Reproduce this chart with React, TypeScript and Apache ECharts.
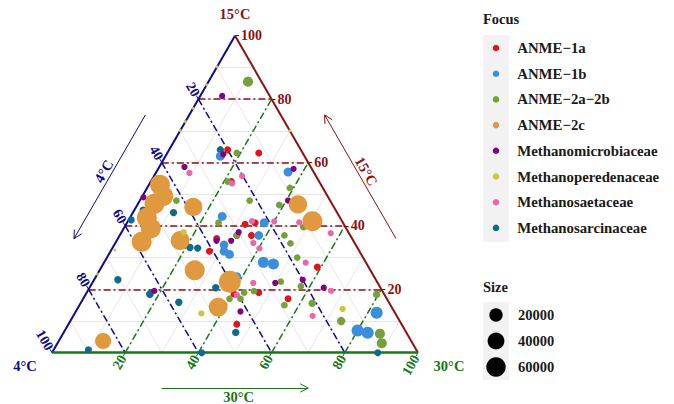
import { useEffect, useRef } from "react";
import * as echarts from "echarts";

const FONT = "'Liberation Serif','Times New Roman',serif";
const C_BLUE = "#0b0b8c";
const C_RED = "#8b1212";
const C_GREEN = "#167816";
const C_GRID = "#e3e3e3";
const C_TEXT = "#1a1a1a";

const categories = [
  "ANME−1a",
  "ANME−1b",
  "ANME−2a−2b",
  "ANME−2c",
  "Methanomicrobiaceae",
  "Methanoperedenaceae",
  "Methanosaetaceae",
  "Methanosarcinaceae",
];
const catColors = ["#e0141c", "#3b8edb", "#76a03a", "#e0993e", "#800080", "#c9c83c", "#e868a8", "#0c6a8a"];

// rows: [15°C, 4°C, 30°C, size]
const anme1a = [
  [64, 20, 16, 1000], [63, 12, 25, 1000], [54, 24, 22, 1000], [40.5, 27, 32.5, 1000],
  [41, 24, 35, 1000], [36, 37, 27, 1000], [37, 31, 32, 1000], [37, 27, 36, 1000],
  [32, 41, 27, 1000], [27, 14, 59, 1000], [18.5, 41, 40.5, 1000], [19, 34, 47, 1000],
  [17, 27, 56, 1000], [9, 45, 46, 1000],
];
const anme1b = [
  [62, 23, 15, 4300], [57, 7, 36, 4300], [43, 32, 25, 4000], [41, 21.5, 37.5, 4300],
  [37, 25, 38, 3500], [34, 36, 30, 3500], [32, 37, 31, 3500], [31, 36, 33, 4000],
  [28.5, 28, 43.5, 10000], [28, 25.5, 46.5, 10000], [24, 37.5, 38.5, 4000],
  [12.6, 5, 82.4, 14000], [7, 13, 80, 14000], [6.3, 10.6, 83.1, 14000],
];
const anme2a2b = [
  [85.5, 3.7, 10.8, 7000], [63, 18, 19, 700], [54, 25, 21, 700], [52, 9, 39, 700],
  [48, 22, 30, 700], [46.6, 14.6, 38.8, 700], [48, 42, 10, 700], [41, 34, 25, 700],
  [39.6, 11.5, 48.9, 700], [37, 31, 32, 700], [37, 18, 45, 700], [34.5, 17.6, 47.9, 700],
  [30, 18, 52, 700], [22.4, 26.3, 51.3, 700], [21, 21.5, 57.5, 700], [19, 38, 43, 700],
  [19.4, 35.1, 45.5, 700], [17, 40, 43, 700], [17, 43, 40, 700], [15, 29, 56, 700],
  [15.6, 21.1, 63.3, 1500], [10, 16, 74, 3000], [18.4, 2.1, 79.5, 1500],
  [6, 7.4, 86.6, 7000], [3, 8.4, 88.6, 7000],
];
const anme2c = [
  [53, 44, 3, 65000], [49.4, 44.9, 5.7, 65000], [47, 48.5, 4.5, 65000], [46, 38.4, 15.6, 50000],
  [42.6, 52.8, 4.6, 65000], [39.2, 53.4, 7.4, 65000], [35, 58, 7, 65000], [35.4, 47.3, 17.3, 55000],
  [26, 48, 26, 65000], [22.4, 40.2, 37.4, 84000], [14.4, 47.4, 38.2, 55000],
  [46.8, 9.4, 43.8, 52000], [41.5, 8.1, 50.4, 65000], [3.7, 84.2, 12.1, 35000],
];
const methanomicrobiaceae = [
  [81, 13, 6, 300], [62.6, 21.9, 15.5, 300], [58, 5, 37, 300], [58.6, 34.5, 6.9, 300],
  [48, 11.5, 40.5, 300], [49, 50.5, 0.5, 300], [35.3, 33.4, 31.3, 300], [38, 30, 32, 300],
  [35.3, 37.4, 27.3, 300], [19.5, 62.3, 18.2, 300], [22, 28, 50, 300], [23, 20, 57, 300],
  [20.5, 15.5, 64, 300], [13, 42, 45, 300],
];
const methanoperedenaceae = [
  [38, 45, 17, 300], [12.4, 53, 34.6, 300], [13.8, 13.7, 72.5, 300],
  [90.2, 9.8, 0, 0], [84.5, 15.5, 0, 0], [77.1, 22.9, 0, 0], [72.9, 27.1, 0, 0],
  [70.1, 29.9, 0, 0], [32.4, 66.6, 1, 0], [24.8, 75.2, 0, 0], [70, 0, 30, 0],
];
const methanosaetaceae = [
  [56.7, 34.1, 9.2, 300], [55.7, 20.2, 24.1, 300], [53.4, 24.1, 22.5, 300], [41.5, 24.6, 33.9, 300],
  [41.4, 18.6, 40, 300], [41.1, 11.9, 47, 300], [37.7, 5, 57.3, 300], [34.6, 27.7, 37.7, 300],
  [32.9, 26.9, 40.2, 300], [28.4, 16.5, 55.1, 300], [22, 34, 44, 300], [19.5, 14, 66.5, 300],
  [18.2, 40.4, 41.4, 300], [11.6, 23, 65.4, 300],
];
const methanosarcinaceae = [
  [64, 22, 14, 1400], [44.2, 44.7, 11.1, 1400], [45, 52.6, 2.4, 1000], [41.9, 57.4, 0.7, 1000],
  [33.2, 45.7, 21.1, 1400], [33, 43.7, 23.3, 1400], [23, 70.5, 6.5, 1400], [18.5, 64, 17.5, 2000],
  [15.9, 57.4, 26.7, 1400], [20.5, 45, 34.5, 1400], [6.4, 46.6, 47, 1400],
  [0.9, 89.6, 9.5, 1000], [0, 59.1, 40.9, 1000], [0, 11, 89, 1000],
];
const groupData = [anme1a, anme1b, anme2a2b, anme2c, methanomicrobiaceae, methanoperedenaceae, methanosaetaceae, methanosarcinaceae];
const drawOrder = [7, 0, 1, 2, 4, 3, 5, 6];

const tickValues = [20, 40, 60, 80, 100];
const minorSteps = [10, 20, 30, 40, 50, 60, 70, 80, 90];
const majorSteps = [20, 40, 60, 80];
const sizeBreaks = [20000, 40000, 60000];
const sizeBreakLabels = ["20000", "40000", "60000"];
const axisTop = "15°C";
const axisLeft = "4°C";
const axisRight = "30°C";

// geometry: 1 data unit = PX pixels, triangle side = 100 units
const PX = 3.66;
const OX = 52;
const OY = 352.7;
const CW = 674;
const CH = 404;
const H = Math.sqrt(3) / 2;

type P = [number, number];
function tern(t15: number, t4: number, t30: number): P {
  const s = t15 + t4 + t30;
  const a = (t15 / s) * 100;
  const c = (t30 / s) * 100;
  return [c + a / 2, a * H];
}
function shift(p: P, nx: number, ny: number, px: number): P {
  return [p[0] + (nx * px) / PX, p[1] + (ny * px) / PX];
}
function sizeToDiam(v: number) {
  return v <= 0 ? 3 : 2 * (2.6 + 0.029 * Math.sqrt(v));
}
function arrowSegs(p0: P, p1: P, len = 9, angDeg = 28): P[][] {
  const dx = p1[0] - p0[0];
  const dy = p1[1] - p0[1];
  const n = Math.hypot(dx, dy);
  const ux = dx / n;
  const uy = dy / n;
  const a = (angDeg * Math.PI) / 180;
  const L = len / PX;
  const h = (s: number): P => {
    const rx = ux * Math.cos(s * a) - uy * Math.sin(s * a);
    const ry = ux * Math.sin(s * a) + uy * Math.cos(s * a);
    return [p1[0] - L * rx, p1[1] - L * ry];
  };
  return [[p0, p1], [p1, h(1)], [p1, h(-1)]];
}

function segSeries(segs: P[][], color: string, width: number, type: any, z: number) {
  return {
    type: "lines",
    coordinateSystem: "cartesian2d",
    silent: true,
    polyline: false,
    z,
    data: segs.map((s) => ({ coords: s })),
    lineStyle: { color, width, type, opacity: 1, cap: "butt" },
    effect: { show: false },
  };
}

function labelSeries(items: { pos: P; text: string }[], color: string, rotate: number, align: string, padding: number[], fontSize: number, z = 20) {
  return {
    type: "scatter",
    silent: true,
    z,
    symbol: "circle",
    symbolSize: 1,
    data: items.map((it) => ({ value: it.pos, name: it.text })),
    itemStyle: { color: "rgba(0,0,0,0)" },
    label: {
      show: true,
      position: "inside",
      formatter: "{b}",
      rotate,
      align,
      verticalAlign: "middle",
      padding,
      color,
      opacity: 1,
      fontSize,
      fontWeight: "bold",
      fontFamily: FONT,
    },
    labelLayout: { hideOverlap: false },
  };
}

function buildOption() {
  const DASH = [7, 3, 2, 3];
  const series: any[] = [];

  const minorSegs: P[][] = [];
  minorSteps.forEach((k) => {
    minorSegs.push([tern(k, 100 - k, 0), tern(k, 0, 100 - k)]);
    minorSegs.push([tern(100 - k, k, 0), tern(0, k, 100 - k)]);
    minorSegs.push([tern(0, 100 - k, k), tern(100 - k, 0, k)]);
  });
  series.push(segSeries(minorSegs, C_GRID, 0.9, "solid", 1));

  series.push(segSeries(majorSteps.map((k) => [tern(k, 100 - k, 0), tern(k, 0, 100 - k)]), C_RED, 1.5, DASH, 2));
  series.push(segSeries(majorSteps.map((k) => [tern(100 - k, k, 0), tern(0, k, 100 - k)]), C_BLUE, 1.5, DASH, 2));
  series.push(segSeries(majorSteps.map((k) => [tern(0, 100 - k, k), tern(100 - k, 0, k)]), C_GREEN, 1.5, DASH, 2));

  // edges
  series.push(segSeries([[tern(0, 100, 0), tern(100, 0, 0)]], C_BLUE, 2, "solid", 3));
  series.push(segSeries([[tern(100, 0, 0), tern(0, 0, 100)]], C_RED, 2, "solid", 3));
  series.push(segSeries([[tern(0, 100, 0), tern(0, 0, 100)]], C_GREEN, 2.6, "solid", 3));

  // small ticks
  const TL = 4;
  series.push(segSeries(tickValues.map((k) => { const p = tern(k, 0, 100 - k); return [p, shift(p, 1, 0, TL)]; }), C_RED, 1, "solid", 3));
  series.push(segSeries(tickValues.map((k) => { const p = tern(100 - k, k, 0); return [p, shift(p, -0.5, H, TL)]; }), C_BLUE, 1, "solid", 3));
  series.push(segSeries(tickValues.map((k) => { const p = tern(0, 100 - k, k); return [p, shift(p, -0.5, -H, TL)]; }), C_GREEN, 1, "solid", 3));

  // arrows
  const nL: P = [-H, 0.5];
  const nR: P = [H, 0.5];
  series.push(segSeries(arrowSegs(shift(tern(69, 31, 0), nL[0], nL[1], 38), shift(tern(30, 70, 0), nL[0], nL[1], 38)), C_BLUE, 1, "solid", 3));
  series.push(segSeries(arrowSegs(shift(tern(30, 0, 70), nR[0], nR[1], 38), shift(tern(69, 0, 31), nR[0], nR[1], 38)), C_RED, 1, "solid", 3));
  series.push(segSeries(arrowSegs(shift(tern(0, 70, 30), 0, -1, 35.3), shift(tern(0, 30, 70), 0, -1, 35.3)), C_GREEN, 1, "solid", 3));

  // points
  drawOrder.forEach((gi) => {
    series.push({
      type: "scatter",
      name: categories[gi],
      z: 10,
      silent: true,
      symbol: "circle",
      data: groupData[gi].map((r) => [...tern(r[0], r[1], r[2]), r[3]]),
      symbolSize: (v: number[]) => sizeToDiam(v[2]),
      itemStyle: { color: catColors[gi], opacity: 1 },
    });
  });

  // tick labels
  series.push(labelSeries(tickValues.map((k) => ({ pos: tern(k, 0, 100 - k), text: String(k) })), C_RED, 0, "left", [0, 0, 0, 6], 14));
  series.push(labelSeries(tickValues.map((k) => ({ pos: tern(100 - k, k, 0), text: String(k) })), C_BLUE, -60, "right", [0, 4, 0, 0], 14));
  series.push(labelSeries(tickValues.map((k) => ({ pos: tern(0, 100 - k, k), text: String(k) })), C_GREEN, 60, "right", [0, 4, 0, 0], 14));

  // axis titles at vertices
  series.push(labelSeries([{ pos: shift(tern(100, 0, 0), 0, 1, 21.7), text: axisTop }], C_RED, 0, "center", [0, 0, 0, 0], 14.5));
  series.push(labelSeries([{ pos: shift(shift(tern(0, 100, 0), -1, 0, 27), 0, -1, 13.3), text: axisLeft }], C_BLUE, 0, "center", [0, 0, 0, 0], 14.5));
  series.push(labelSeries([{ pos: shift(shift(tern(0, 0, 100), 1, 0, 31), 0, -1, 13.3), text: axisRight }], C_GREEN, 0, "center", [0, 0, 0, 0], 14.5));

  // arrow titles
  series.push(labelSeries([{ pos: shift(tern(50, 50, 0), nL[0], nL[1], 46), text: axisLeft }], C_BLUE, 60, "center", [0, 0, 0, 0], 14.5));
  series.push(labelSeries([{ pos: shift(tern(50, 0, 50), nR[0], nR[1], 46), text: axisTop }], C_RED, -60, "center", [0, 0, 0, 0], 14.5));
  series.push(labelSeries([{ pos: shift(tern(0, 49, 51), 0, -1, 44), text: axisRight }], C_GREEN, 0, "center", [0, 0, 0, 0], 14.5));

  // legend key backgrounds and size legend
  const sizeY = [315, 341, 367];
  const graphic: any[] = [
    { type: "rect", silent: true, z: 0, shape: { x: 483, y: 35, width: 26, height: 207 }, style: { fill: "#f2f2f2" } },
    { type: "rect", silent: true, z: 0, shape: { x: 483, y: 302, width: 26, height: 78 }, style: { fill: "#f2f2f2" } },
    { type: "text", silent: true, z: 5, x: 483, y: 19, style: { text: "Focus", fontSize: 14.5, fontWeight: "bold", fontFamily: FONT, fill: C_TEXT, align: "left", verticalAlign: "middle" } },
    { type: "text", silent: true, z: 5, x: 483, y: 287, style: { text: "Size", fontSize: 14.5, fontWeight: "bold", fontFamily: FONT, fill: C_TEXT, align: "left", verticalAlign: "middle" } },
  ];
  sizeBreaks.forEach((v, i) => {
    graphic.push({ type: "circle", silent: true, z: 5, shape: { cx: 496, cy: sizeY[i], r: sizeToDiam(v) / 2 }, style: { fill: "#000" } });
    graphic.push({ type: "text", silent: true, z: 5, x: 518, y: sizeY[i], style: { text: sizeBreakLabels[i], fontSize: 14.5, fontWeight: "bold", fontFamily: FONT, fill: C_TEXT, align: "left", verticalAlign: "middle" } });
  });

  return {
    animation: false,
    backgroundColor: "#ffffff",
    grid: { left: 0, right: 0, top: 0, bottom: 0, containLabel: false },
    xAxis: { type: "value", min: -OX / PX, max: (CW - OX) / PX, show: false },
    yAxis: { type: "value", min: -(CH - OY) / PX, max: OY / PX, show: false },
    legend: {
      data: categories,
      orient: "vertical",
      left: 492.75,
      top: 40,
      padding: 0,
      icon: "circle",
      itemWidth: 6.5,
      itemHeight: 6.5,
      itemGap: 9.7,
      selectedMode: false,
      textStyle: { fontSize: 14.8, lineHeight: 16, fontWeight: "bold", fontFamily: FONT, color: C_TEXT, padding: [0, 0, 0, 13] },
    },
    graphic,
    series,
  };
}

export default function App() {
  const ref = useRef<HTMLDivElement>(null);
  useEffect(() => {
    const chart = echarts.init(ref.current!, null, { renderer: "svg" });
    chart.setOption(buildOption() as any);
    return () => chart.dispose();
  }, []);
  return <div ref={ref} style={{ position: "fixed", left: 0, top: 0, width: CW, height: CH, background: "#fff" }} />;
}
